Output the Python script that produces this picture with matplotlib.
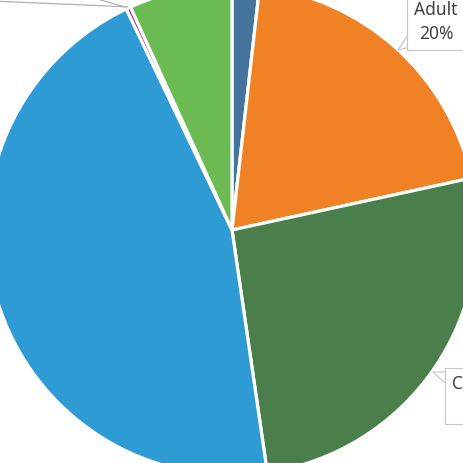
import numpy as np
import matplotlib.pyplot as plt

# slices, clockwise from 12 o'clock
groups = ['Infant', 'Adult', 'Children', 'Senior', 'Unknown', 'Teen']
shares = [1.8, 19.8, 26.1, 45.2, 0.3, 6.8]
colors = ['#44739b', '#f08124', '#4a7e4b', '#2f9bd5', '#93278f', '#6cba52']

W, H = 464, 463
cx, cy, R = 232, 233, 245

plt.rcParams['font.family'] = ['Noto Sans', 'DejaVu Sans']

fig = plt.figure(figsize=(W / 100, H / 100), dpi=100)
ax = fig.add_axes([0, 0, 1, 1])

wedges, _ = ax.pie(shares, colors=colors, startangle=90, counterclock=False,
                   center=(cx, cy), radius=R, frame=True,
                   wedgeprops=dict(edgecolor='white', linewidth=2.3))
ax.set_xlim(0, W)
ax.set_ylim(0, H)
ax.set_aspect('equal')
ax.axis('off')


def edge_point(w, frac=0.5, r=1.0):
    a = np.deg2rad(w.theta1 + (w.theta2 - w.theta1) * frac)
    return cx + R * r * np.cos(a), cy + R * r * np.sin(a)


box = dict(boxstyle='square,pad=0.4', fc='white', ec='#c4c4c4', lw=0.8)


def pointer(corner):
    return dict(arrowstyle='wedge,tail_width=0.9,shrink_factor=0.5',
                fc='white', ec='#c4c4c4', lw=0.8, relpos=corner,
                shrinkA=0, shrinkB=0, patchA=None)


# Adult callout (top right)
ax.annotate('%s\n%d%%' % (groups[1], round(shares[1])),
            xy=(398, H - 50), xytext=(436, H - 22),
            ha='center', va='center', fontsize=12.5, color='#404040',
            linespacing=1.4, bbox=box, arrowprops=pointer((0.0, 0.1)),
            annotation_clip=False)

# Children callout (bottom right)
ax.annotate('%s\n%d%%' % (groups[2], round(shares[2])),
            xy=(433, H - 372), xytext=(452, H - 396),
            ha='left', va='center', multialignment='center',
            fontsize=12.5, color='#404040', linespacing=1.4,
            bbox=box, arrowprops=pointer((0.0, 0.9)), annotation_clip=False)

# leader lines to labels off to the upper left
p = edge_point(wedges[4], 0.5, 1.005)
ax.annotate('%s\n%.1f%%' % (groups[4], shares[4]), xy=p, xytext=(-100, H + 3),
            ha='right', va='center', fontsize=12.5, color='#404040',
            arrowprops=dict(arrowstyle='-', color='#b0b0b0', lw=0.9,
                            relpos=(1, 0.5), shrinkA=0, shrinkB=0),
            annotation_clip=False)
ax.annotate('%s\n%d%%' % (groups[5], round(shares[5])), xy=(p[0] - 3, p[1]),
            xytext=(-5, H + 30),
            ha='right', va='center', fontsize=12.5, color='#404040',
            arrowprops=dict(arrowstyle='-', color='#b0b0b0', lw=0.9,
                            relpos=(1, 0.5), shrinkA=0, shrinkB=0),
            annotation_clip=False)

fig.savefig('out.png', dpi=100, facecolor='white')
